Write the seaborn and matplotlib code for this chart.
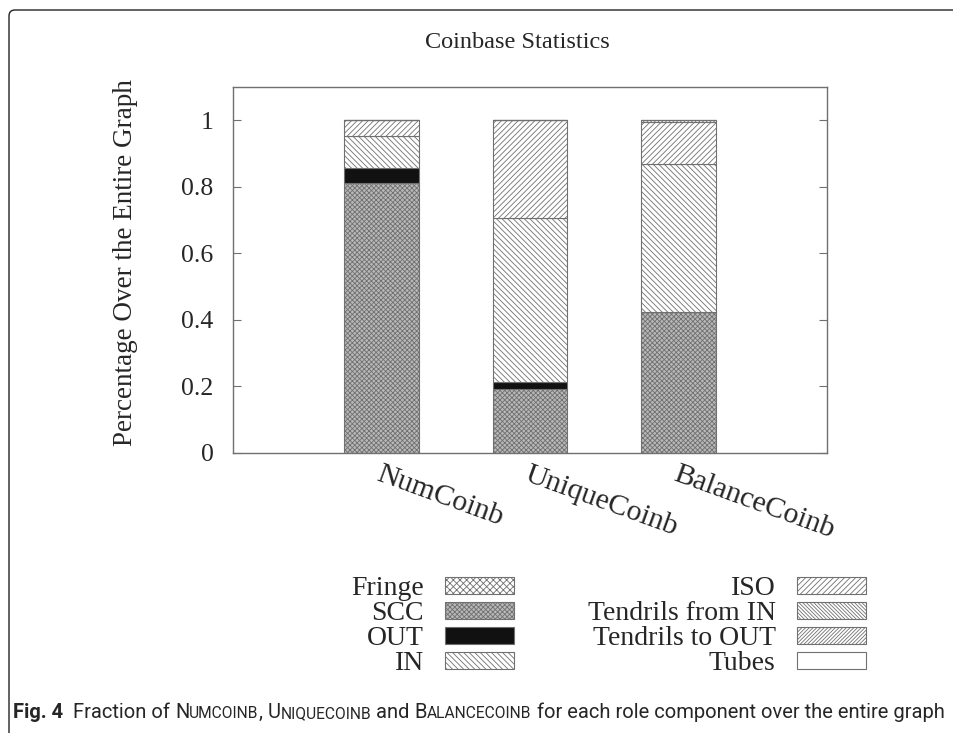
import numpy as np
import matplotlib
matplotlib.use("Agg")
import matplotlib.pyplot as plt
import matplotlib.patches as mpatches
import matplotlib.transforms as mtrans
import seaborn as sns

# ---------------- data ----------------
categories = ["NumCoinb", "UniqueCoinb", "BalanceCoinb"]
components = ["Fringe", "SCC", "OUT", "IN", "ISO",
              "Tendrils from IN", "Tendrils to OUT", "Tubes"]
fringe = [0.0, 0.0, 0.0]
scc = [0.810, 0.193, 0.423]
out_ = [0.047, 0.021, 0.0]
in_ = [0.096, 0.491, 0.447]
iso = [0.047, 0.295, 0.125]
tendrils_in = [0.0, 0.0, 0.005]
tendrils_out = [0.0, 0.0, 0.0]
tubes = [0.0, 0.0, 0.0]
series = [fringe, scc, out_, in_, iso, tendrils_in, tendrils_out, tubes]
yticks = [0, 0.2, 0.4, 0.6, 0.8, 1.0]
ytick_labels = ["0", "0.2", "0.4", "0.6", "0.8", "1"]

# ---------------- style ----------------
sns.set_style("white")
plt.rcParams["font.family"] = ["Liberation Serif", "DejaVu Serif"]
plt.rcParams["hatch.color"] = "#6a6a6a"
plt.rcParams["hatch.linewidth"] = 0.6

GRAY = "#707070"
styles = {
    "Fringe": dict(facecolor="white", hatch="xxxxx"),
    "SCC": dict(facecolor="#b8b8b8", hatch="xxxxxxx"),
    "OUT": dict(facecolor="#111111", hatch=None),
    "IN": dict(facecolor="white", hatch="\\\\\\\\\\\\"),
    "ISO": dict(facecolor="white", hatch="//////"),
    "Tendrils from IN": dict(facecolor="white", hatch="\\\\\\\\\\\\\\\\\\"),
    "Tendrils to OUT": dict(facecolor="white", hatch="/////////"),
    "Tubes": dict(facecolor="white", hatch=None),
}

fig = plt.figure(figsize=(9.54, 7.33), dpi=100)
W, H = 954, 733
ax = fig.add_axes([233 / W, 1 - 453 / H, (827 - 233) / W, (453 - 87) / H])

bottom = np.zeros(len(categories))
handles = []
for name, vals in zip(components, series):
    st = styles[name]
    vals = np.asarray(vals, dtype=float)
    sns.barplot(x=categories, y=vals, bottom=bottom, width=0.5,
                color=st["facecolor"], saturation=1, hatch=st["hatch"],
                edgecolor=GRAY, linewidth=0.8, order=categories, ax=ax)
    bottom = bottom + vals
    handles.append(mpatches.Patch(facecolor=st["facecolor"], hatch=st["hatch"],
                                  edgecolor=GRAY, linewidth=0.8, label=name))

ax.set_xlim(-1, 3)
ax.set_ylim(0, 1.1)
ax.set_yticks(yticks)
ax.set_yticklabels(ytick_labels, fontsize=18.5)
ax.set_xticks(range(len(categories)))
ax.set_xticklabels(categories, fontsize=21.5, rotation=-20, ha="left", va="top",
                   rotation_mode="anchor")
ax.tick_params(axis="y", direction="in", length=6, width=0.8, color=GRAY,
               left=True, right=True, pad=14)
ax.tick_params(axis="x", length=0, pad=6)
for sp in ax.spines.values():
    sp.set_visible(True)
    sp.set_color(GRAY)
    sp.set_linewidth(1.0)
ax.set_xlabel("")
ax.set_ylabel("Percentage Over the Entire Graph", fontsize=19.5)
ax.yaxis.set_label_coords(-0.16, 0.52)

fig.text(517 / W, 1 - 42 / H, "Coinbase Statistics", ha="center", va="center",
         fontsize=17.5)

leg = fig.legend(handles=handles, labels=components, ncol=2, markerfirst=False,
                 loc="upper right", bbox_to_anchor=(866 / W, 1 - 576 / H),
                 frameon=False, fontsize=20, handlelength=2.5, handleheight=0.55,
                 handletextpad=0.75, columnspacing=2.65, labelspacing=0.0,
                 borderpad=0, borderaxespad=0)

# frame around the figure
frame = mpatches.FancyBboxPatch((9, -60), 1200, H - 10 + 60,
                                boxstyle="round,pad=0,rounding_size=6",
                                transform=mtrans.IdentityTransform(),
                                facecolor="none", edgecolor="#222222", linewidth=1.0)
fig.patches.append(frame)

# caption with small caps, scaled to span the figure width
renderer = fig.canvas.get_renderer()
cap_font = ["Roboto", "DejaVu Sans"]
pieces = [("Fig. 4", 1.0, "bold"), ("  Fraction of ", 1.0, "normal"),
          ("N", 1.0, "normal"), ("UMCOINB", 0.78, "normal"), (", ", 1.0, "normal"),
          ("U", 1.0, "normal"), ("NIQUECOINB", 0.78, "normal"), (" and ", 1.0, "normal"),
          ("B", 1.0, "normal"), ("ALANCECOINB", 0.78, "normal"),
          (" for each role component over the entire graph", 1.0, "normal")]


def draw_caption(base, draw=True):
    x = 13
    ybase = 1 - 718 / H
    made = []
    for txt, f, fw in pieces:
        t = fig.text(x / W, ybase, txt, fontsize=base * f, fontweight=fw,
                     family=cap_font, ha="left", va="baseline")
        bb = t.get_window_extent(renderer=renderer)
        x += bb.width
        made.append(t)
    if not draw:
        for t in made:
            t.remove()
    return x


end = draw_caption(12.0, draw=False)
base = 12.0 * (945 - 13) / (end - 13)
draw_caption(base)

fig.savefig("out.png", dpi=100)
